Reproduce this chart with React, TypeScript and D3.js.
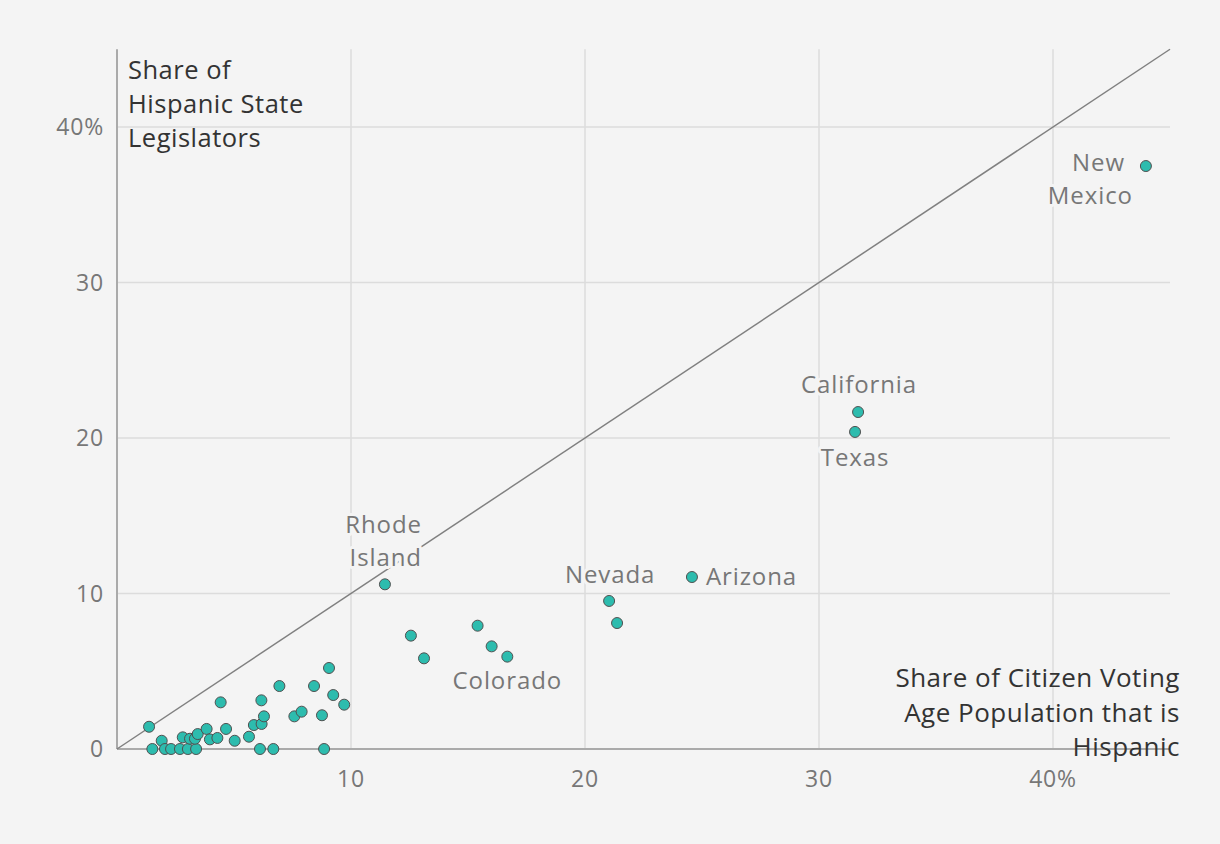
import React from "react";
import * as d3 from "d3";

const cvapShare: number[] = [
  1.37, 1.91, 1.51, 2.05, 2.31, 2.69, 3.03, 3.38, 2.81, 3.12, 3.33, 3.45, 3.83, 3.97, 4.29, 4.43, 4.66,
  5.03, 5.64, 5.85, 6.18, 6.28, 6.17, 6.11, 6.68, 6.94, 7.58, 7.89, 8.42, 8.76, 9.06, 9.24, 9.71, 8.85,
  11.45, 12.56, 13.12, 15.41, 16.01, 16.68, 21.03, 21.37, 24.57, 31.67, 31.54, 43.97,
];
const legislatorShare: number[] = [
  1.43, 0.53, 0, 0, 0, 0, 0, 0, 0.75, 0.66, 0.66, 0.96, 1.29, 0.62, 0.71, 3.0, 1.29,
  0.53, 0.79, 1.54, 1.61, 2.1, 3.13, 0, 0, 4.05, 2.1, 2.4, 4.05, 2.17, 5.21, 3.47, 2.85, 0,
  10.59, 7.29, 5.83, 7.93, 6.6, 5.94, 9.52, 8.1, 11.06, 21.67, 20.39, 37.49,
];
const stateNames: string[] = [
  "", "", "", "", "", "", "", "", "", "", "", "", "", "", "", "", "",
  "", "", "", "", "", "", "", "", "", "", "", "", "", "", "", "", "",
  "Rhode Island", "", "", "", "", "Colorado", "Nevada", "", "Arizona", "California", "Texas", "New Mexico",
];
const xTicks: number[] = [10, 20, 30, 40];
const yTicks: number[] = [0, 10, 20, 30, 40];
const yTitle: string[] = ["Share of", "Hispanic State", "Legislators"];
const xTitle: string[] = ["Share of Citizen Voting", "Age Population that is", "Hispanic"];

type LabelLine = { text: string; dx: number; dy: number; anchor: string };
const labelLayout: Record<string, LabelLine[]> = {
  "New Mexico": [
    { text: "New", dx: -21, dy: 5, anchor: "end" },
    { text: "Mexico", dx: -13, dy: 38, anchor: "end" },
  ],
  California: [{ text: "California", dx: 1, dy: -19, anchor: "middle" }],
  Texas: [{ text: "Texas", dx: 0, dy: 34, anchor: "middle" }],
  "Rhode Island": [
    { text: "Rhode", dx: 37, dy: -51, anchor: "end" },
    { text: "Island", dx: 37, dy: -18, anchor: "end" },
  ],
  Nevada: [{ text: "Nevada", dx: 1, dy: -18, anchor: "middle" }],
  Arizona: [{ text: "Arizona", dx: 14, dy: 8, anchor: "start" }],
  Colorado: [{ text: "Colorado", dx: 0, dy: 32, anchor: "middle" }],
};

const W = 1220;
const H = 844;
const FONT = "'Open Sans', 'DejaVu Sans', sans-serif";

export default function App() {
  const x = d3.scaleLinear().domain([0, 45]).range([117, 1170]);
  const y = d3.scaleLinear().domain([0, 45]).range([749, 49.25]);
  const points = cvapShare.map((v, i) => ({ x: v, y: legislatorShare[i], name: stateNames[i] }));
  const diag = d3.line<number>().x((d) => x(d)).y((d) => y(d))([0, 45]) || "";

  return (
    <svg
      width={W}
      height={H}
      style={{ position: "absolute", left: 0, top: 0, display: "block", background: "#f4f4f4" }}
      fontFamily={FONT}
    >
      <rect x={0} y={0} width={W} height={H} fill="#f4f4f4" />
      {xTicks.map((t) => (
        <line key={"gx" + t} x1={x(t)} x2={x(t)} y1={y(45)} y2={y(0)} stroke="#dcdcdc" strokeWidth={1.5} />
      ))}
      {yTicks.filter((t) => t > 0).map((t) => (
        <line key={"gy" + t} x1={x(0)} x2={x(45)} y1={y(t)} y2={y(t)} stroke="#dcdcdc" strokeWidth={1.5} />
      ))}
      <line x1={x(0)} x2={x(0)} y1={y(45)} y2={y(0)} stroke="#aaaaaa" strokeWidth={2} />
      <line x1={x(0)} x2={x(45)} y1={y(0)} y2={y(0)} stroke="#aaaaaa" strokeWidth={2} />
      {xTicks.map((t) => (
        <text key={"tx" + t} x={x(t)} y={y(0) + 38} textAnchor="middle" fontSize={23} letterSpacing={0.8} fill="#777">
          {t === 40 ? "40%" : String(t)}
        </text>
      ))}
      {yTicks.map((t) => (
        <text key={"ty" + t} x={104} y={y(t) + 8} textAnchor="end" fontSize={23} letterSpacing={0.8} fill="#777">
          {t === 40 ? "40%" : String(t)}
        </text>
      ))}
      <path d={diag} stroke="#808080" strokeWidth={1.5} fill="none" />
      {points
        .filter((p) => p.name && labelLayout[p.name])
        .map((p) =>
          labelLayout[p.name].map((l, j) => (
            <text
              key={p.name + j}
              x={x(p.x) + l.dx}
              y={y(p.y) + l.dy}
              textAnchor={l.anchor as any}
              fontSize={24}
              letterSpacing={0.9}
              fill="#777"
              stroke="#f4f4f4"
              strokeWidth={6}
              strokeLinejoin="round"
              style={{ paintOrder: "stroke" }}
            >
              {l.text}
            </text>
          ))
        )}
      {points.map((p, i) => (
        <circle key={"p" + i} cx={x(p.x)} cy={y(p.y)} r={5.5} fill="#2dbcae" stroke="#505050" strokeWidth={1} />
      ))}
      <text fontSize={25.5} letterSpacing={0.5} fill="#333">
        {yTitle.map((s, i) => (
          <tspan key={"yt" + i} x={128} y={79 + i * 34}>
            {s}
          </tspan>
        ))}
      </text>
      <text fontSize={26} letterSpacing={0.5} fill="#333" textAnchor="end">
        {xTitle.map((s, i) => (
          <tspan key={"xt" + i} x={1180} y={687 + i * 34.5}>
            {s}
          </tspan>
        ))}
      </text>
    </svg>
  );
}
